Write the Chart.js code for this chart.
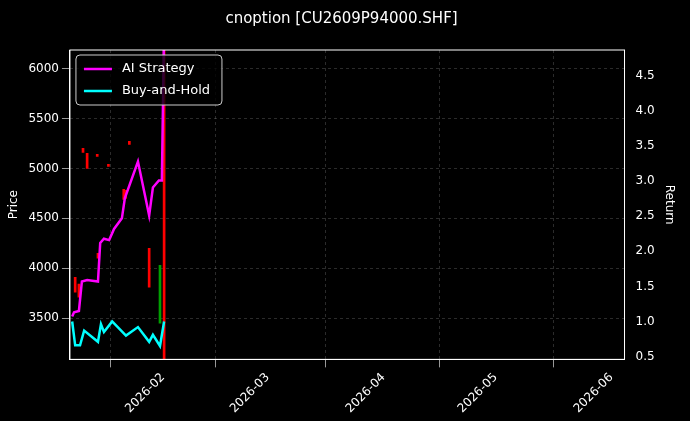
<!DOCTYPE html>
<html>
<head>
<meta charset="utf-8">
<script src="https://cdn.jsdelivr.net/npm/chart.js@4.4.1/dist/chart.umd.min.js"></script>
<style>
  html, body { margin: 0; background: #000; }
  #wrap { width: 690px; height: 421px; }
</style>
</head>
<body>
<div id="wrap"><canvas id="c" width="690" height="421"></canvas></div>
<script>
// day-of-year 2026 (Jan 1 = 0)
const tickDays = [31, 59, 90, 120, 151];
const tickLabels = ['2026-02', '2026-03', '2026-04', '2026-05', '2026-06'];

const aiDays = [6.7, 7.2, 8.5, 9.3, 10.7, 13.6, 14.2, 15.2, 16.6, 17.9, 20, 20.8, 24.3, 27.3, 28.3, 29.9, 30.7, 31.3];
const aiReturn = [1.07, 1.13, 1.15, 1.57, 1.59, 1.57, 2.12, 2.18, 2.16, 2.32, 2.47, 2.76, 3.28, 2.51, 2.91, 3.01, 3.01, 5.2];

const bhDays = [6.7, 7.5, 8.8, 9.9, 13.6, 14.4, 15.2, 17.4, 21.1, 24.3, 27.3, 28.3, 30.2, 31.3];
const bhReturn = [1.0, 0.66, 0.66, 0.87, 0.71, 0.96, 0.85, 1.0, 0.8, 0.92, 0.71, 0.81, 0.65, 1.0];

// candles: day, low, high, up?
const candleDays = [7.5, 8.5, 9.6, 10.7, 13.4, 13.6, 16.4, 20.5, 21.0, 22.0, 27.3, 30.2, 31.3];
const candleLow  = [3760, 3710, 5160, 5000, 5120, 4100, 5020, 4690, 4700, 5240, 3810, 3450, 3000];
const candleHigh = [3910, 3840, 5200, 5150, 5140, 4150, 5040, 4790, 4780, 5270, 4200, 4030, 6300];
const candleUp   = [false, false, false, false, false, false, false, false, false, false, false, true, false];

const legendInside = {
  id: 'legendInside',
  afterDraw(chart) {
    const ctx = chart.ctx, a = chart.chartArea;
    ctx.save();
    ctx.strokeStyle = '#ffffff'; ctx.lineWidth = 1;
    ctx.strokeRect(a.left, a.top, a.right - a.left, a.bottom - a.top);
    const x = a.left + 6, y = a.top + 5;
    ctx.fillStyle = 'rgba(0,0,0,0.8)';
    ctx.strokeStyle = '#cccccc';
    ctx.beginPath();
    ctx.roundRect(x, y, 146, 50, 4);
    ctx.fill(); ctx.stroke();
    ctx.font = '13px "DejaVu Sans"';
    ctx.textBaseline = 'middle';
    [['AI Strategy', '#ff00ff'], ['Buy-and-Hold', '#00ffff']].forEach(function (it, i) {
      const yy = y + 14 + i * 22;
      ctx.strokeStyle = it[1]; ctx.lineWidth = 2.5;
      ctx.beginPath(); ctx.moveTo(x + 8, yy); ctx.lineTo(x + 36, yy); ctx.stroke();
      ctx.fillStyle = '#ffffff';
      ctx.fillText(it[0], x + 46, yy);
    });
    ctx.restore();
  }
};

const grid = { color: 'rgba(160,160,160,0.45)', lineWidth: 0.6, drawTicks: true, tickColor: '#fff' };
const border = { color: '#fff', dash: [3, 3] };
const font = { size: 12, family: 'DejaVu Sans' };

new Chart(document.getElementById('c').getContext('2d'), {
  data: {
    datasets: [
      {
        type: 'bar', yAxisID: 'y',
        data: candleDays.map(function (d, i) { return { x: d, y: [candleLow[i], candleHigh[i]] }; }),
        backgroundColor: candleUp.map(function (u) { return u ? '#00a000' : '#ff0000'; }),
        barThickness: 2, order: 2
      },
      {
        type: 'line', yAxisID: 'y2', label: 'AI Strategy',
        data: aiDays.map(function (d, i) { return { x: d, y: aiReturn[i] }; }),
        borderColor: '#ff00ff', borderWidth: 2.5, pointRadius: 0, tension: 0, order: 1
      },
      {
        type: 'line', yAxisID: 'y2', label: 'Buy-and-Hold',
        data: bhDays.map(function (d, i) { return { x: d, y: bhReturn[i] }; }),
        borderColor: '#00ffff', borderWidth: 2.5, pointRadius: 0, tension: 0, order: 1
      }
    ]
  },
  options: {
    responsive: false, animation: false,
    layout: { padding: { left: 3, right: 10, top: 0, bottom: 2 } },
    plugins: {
      legend: { display: false },
      tooltip: { enabled: false },
      title: { display: true, text: 'cnoption [CU2609P94000.SHF]', color: '#fff',
               font: { size: 15, family: 'DejaVu Sans', weight: 'normal' }, padding: { top: 10, bottom: 22 } }
    },
    scales: {
      x: {
        type: 'linear', min: 6.1, max: 154.5, offset: false,
        afterBuildTicks: function (ax) { ax.ticks = tickDays.map(function (v) { return { value: v }; }); },
        ticks: { color: '#fff', font: font, maxRotation: 45, minRotation: 45,
                 callback: function (v) { return tickLabels[tickDays.indexOf(v)]; } },
        grid: grid, border: border
      },
      y: {
        position: 'left', min: 3087, max: 6186,
        afterBuildTicks: function (ax) { ax.ticks = [3500, 4000, 4500, 5000, 5500, 6000].map(function (v) { return { value: v }; }); },
        ticks: { color: '#fff', font: font, callback: function (v) { return String(v); } },
        title: { display: true, text: 'Price', color: '#fff', font: font },
        grid: grid, border: border
      },
      y2: {
        position: 'right', min: 0.46, max: 4.87,
        afterBuildTicks: function (ax) { ax.ticks = [0.5, 1, 1.5, 2, 2.5, 3, 3.5, 4, 4.5].map(function (v) { return { value: v }; }); },
        ticks: { color: '#fff', font: font, callback: function (v) { return v.toFixed(1); } },
        title: { display: true, text: 'Return', color: '#fff', font: font },
        grid: { display: false }, border: { color: '#fff' }
      }
    }
  },
  plugins: [legendInside]
});
</script>
</body>
</html>
